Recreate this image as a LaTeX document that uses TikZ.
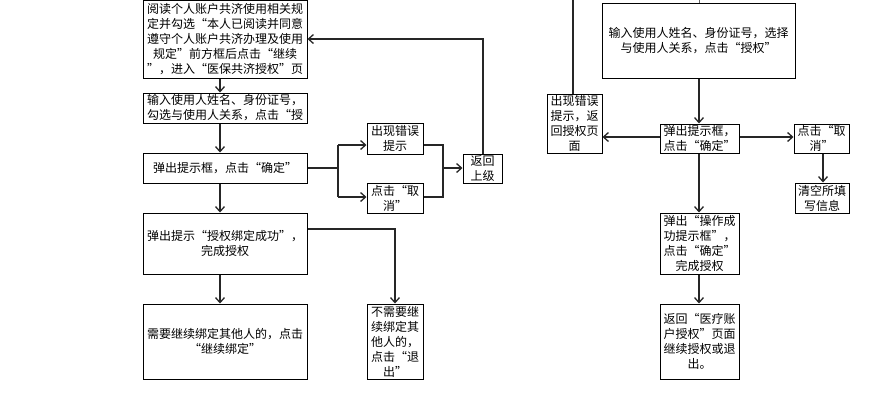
\documentclass[tikz,border=0pt]{standalone}
\usepackage{fontspec}
\setmainfont{Noto Sans CJK SC}
\usetikzlibrary{arrows.meta}
\tikzset{
  box/.style={draw=black, line width=1pt, inner sep=0pt, align=center, font=\fontsize{12}{15}\selectfont, anchor=center},
  conn/.style={draw=black!85, line width=1.3pt},
  arr/.style={conn, -{Straight Barb[length=5pt,width=9pt]}},
}
\begin{document}
\begin{tikzpicture}[x=1pt,y=-1pt]
\useasboundingbox (0,0) rectangle (873,408);
% left column
\node[box, minimum width=164, minimum height=78] (A) at (225,39.5) {阅读个人账户共济使用相关规\\定并勾选“本人已阅读并同意\\遵守个人账户共济办理及使用\\规定”前方框后点击“继续\\”，进入“医保共济授权”页};
\node[box, minimum width=164, minimum height=30] (B) at (225,108) {输入使用人姓名、身份证号，\\勾选与使用人关系，点击“授};
\node[box, minimum width=164, minimum height=30] (C) at (225,168) {弹出提示框，点击“确定”};
\node[box, minimum width=164, minimum height=61] (D) at (225,243.5) {弹出提示“授权绑定成功”，\\完成授权};
\node[box, minimum width=164, minimum height=75] (E) at (225,341.5) {需要继续绑定其他人的，点击\\“继续绑定”};
\node[box, minimum width=56, minimum height=75] (F) at (395,341.5) {不需要继\\续绑定其\\他人的，\\点击“退\\出”};
\node[box, minimum width=56, minimum height=31] (Err) at (395,138.5) {出现错误\\提示};
\node[box, minimum width=56, minimum height=30] (Can) at (395,198) {点击“取\\消”};
\node[box, minimum width=39, minimum height=29] (Ret) at (482.5,168.5) {返回\\上级};
% left connectors
\draw[arr] (220,0 |- A.south) -- (220,0 |- B.north);
\draw[arr] (220,0 |- B.south) -- (220,0 |- C.north);
\draw[arr] (220,0 |- C.south) -- (220,0 |- D.north);
\draw[arr] (220,0 |- D.south) -- (220,0 |- E.north);
\coordinate (split) at (338,168);
\draw[conn] (C.east) -- (split);
\draw[conn] (338,145) -- (338,197);
\draw[arr] (338,145) -- (Err.west |- 0,145);
\draw[arr] (338,197) -- (Can.west |- 0,197);
\draw[conn] (Err.east |- 0,145) -- (443,145) -- (443,197) -- (Can.east |- 0,197);
\draw[arr] (443,168) -- (Ret.west |- 0,168);
\draw[arr] (483,0 |- Ret.north) -- (483,39) -- (A.east |- 0,39);
\draw[arr] (D.east |- 0,229) -- (395,229) -- (F.north);
% right column
\node[box, minimum width=193, minimum height=75] (T) at (698.5,40.5) {输入使用人姓名、身份证号，选择\\与使用人关系，点击“授权”};
\node[box, minimum width=55, minimum height=59] (Err2) at (574.5,123.5) {出现错误\\提示，返\\回授权页\\面};
\node[box, minimum width=79, minimum height=29] (P) at (699.5,138.5) {弹出提示框，\\点击“确定”};
\node[box, minimum width=55, minimum height=29] (Can2) at (821.5,138.5) {点击“取\\消”};
\node[box, minimum width=54, minimum height=30] (Clr) at (822,198) {清空所填\\写信息};
\node[box, minimum width=79, minimum height=61] (S) at (699.5,243.5) {弹出“操作成\\功提示框”，\\点击“确定”\\完成授权};
\node[box, minimum width=79, minimum height=75] (R) at (699.5,341.5) {返回“医疗账\\户授权”页面\\继续授权或退\\出。};
\coordinate (topL) at (573,0);
\coordinate (topR) at (699,0);
\draw[conn] (topL) -- (573,0 |- Err2.north);
\draw[draw=black!60, line width=0.6pt] (topR) -- (699,0 |- T.north);
\draw[arr] (699,0 |- T.south) -- (699,0 |- P.north);
\draw[arr] (P.west |- 0,137) -- (Err2.east |- 0,137);
\draw[arr] (P.east |- 0,137) -- (Can2.west |- 0,137);
\draw[arr] (823,0 |- Can2.south) -- (823,0 |- Clr.north);
\draw[arr] (699,0 |- P.south) -- (699,0 |- S.north);
\draw[arr] (699,0 |- S.south) -- (699,0 |- R.north);
\end{tikzpicture}
\end{document}
